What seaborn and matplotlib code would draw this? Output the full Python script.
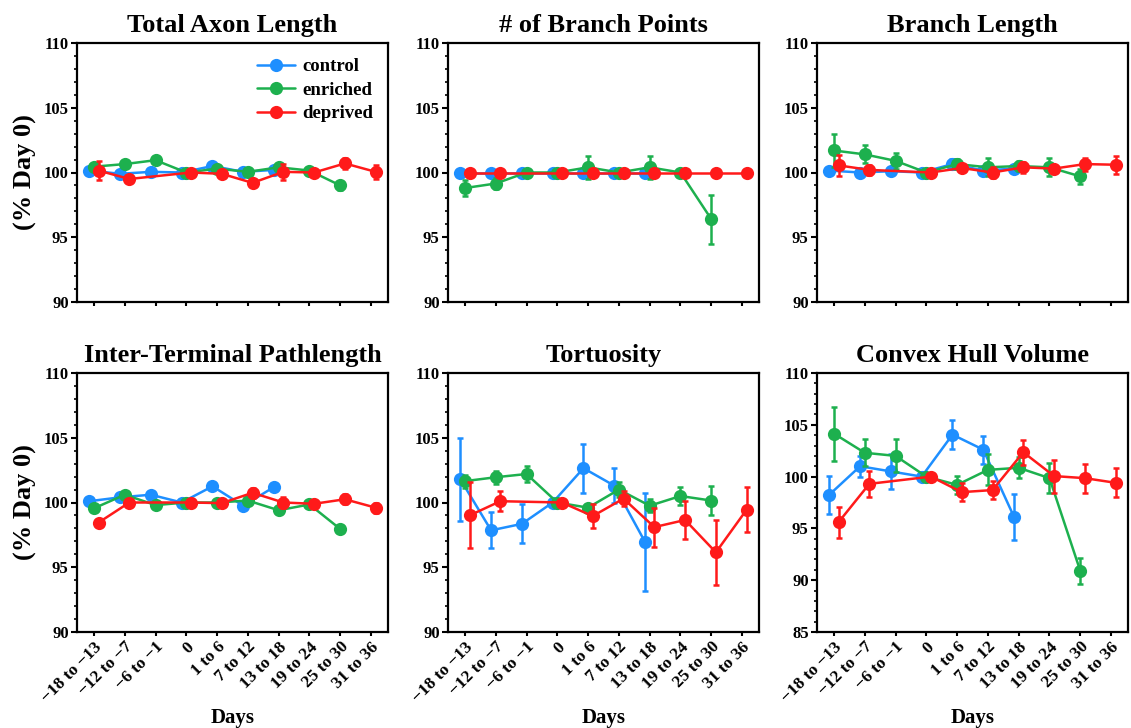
import numpy as np
import pandas as pd
import matplotlib
matplotlib.use("Agg")
import matplotlib.pyplot as plt
from matplotlib.ticker import MultipleLocator
import seaborn as sns

# ---------------- data ----------------
categories = ["\u221218 to \u221213", "\u221212 to \u22127", "\u22126 to \u22121", "0",
              "1 to 6", "7 to 12", "13 to 18", "19 to 24", "25 to 30", "31 to 36"]
groups = ["control", "enriched", "deprived"]
control_cats = [0, 1, 2, 3, 4, 5, 6]
enriched_cats = [0, 1, 2, 3, 4, 5, 6, 7, 8]
deprived_cats = [0, 1, 3, 4, 5, 6, 7, 8, 9]

titles = ["Total Axon Length", "# of Branch Points", "Branch Length",
          "Inter-Terminal Pathlength", "Tortuosity", "Convex Hull Volume"]

# Total Axon Length
tal_control = [100.15, 99.9, 100.05, 100.0, 100.5, 100.05, 100.2]
tal_control_err = [0.2, 0.2, 0.15, 0.0, 0.2, 0.2, 0.2]
tal_enriched = [100.45, 100.65, 100.95, 100.0, 100.3, 100.05, 100.4, 100.15, 99.0]
tal_enriched_err = [0.2, 0.2, 0.3, 0.0, 0.25, 0.2, 0.25, 0.25, 0.35]
tal_deprived = [100.15, 99.5, 100.0, 99.9, 99.2, 100.05, 100.0, 100.7, 100.05]
tal_deprived_err = [0.75, 0.2, 0.0, 0.2, 0.3, 0.6, 0.3, 0.4, 0.55]

# # of Branch Points
bp_control = [100.0, 100.0, 100.0, 100.0, 100.0, 100.0, 100.0]
bp_control_err = [0.0, 0.0, 0.0, 0.0, 0.0, 0.0, 0.0]
bp_enriched = [98.8, 99.15, 100.0, 100.0, 100.4, 100.0, 100.4, 100.0, 96.4]
bp_enriched_err = [0.65, 0.4, 0.1, 0.0, 0.9, 0.1, 0.9, 0.1, 1.9]
bp_deprived = [100.0, 100.0, 100.0, 100.0, 100.0, 100.0, 100.0, 100.0, 100.0]
bp_deprived_err = [0.0, 0.0, 0.0, 0.0, 0.0, 0.0, 0.0, 0.0, 0.0]

# Branch Length
bl_control = [100.15, 100.0, 100.1, 100.0, 100.65, 100.15, 100.3]
bl_control_err = [0.15, 0.1, 0.1, 0.0, 0.4, 0.2, 0.3]
bl_enriched = [101.7, 101.4, 100.9, 100.0, 100.65, 100.4, 100.5, 100.4, 99.7]
bl_enriched_err = [1.25, 0.7, 0.6, 0.0, 0.4, 0.7, 0.4, 0.7, 0.6]
bl_deprived = [100.55, 100.2, 100.0, 100.35, 100.0, 100.4, 100.3, 100.65, 100.6]
bl_deprived_err = [0.8, 0.4, 0.0, 0.3, 0.4, 0.4, 0.3, 0.5, 0.7]

# Inter-Terminal Pathlength
itp_control = [100.1, 100.4, 100.6, 100.0, 101.25, 99.75, 101.2]
itp_control_err = [0.15, 0.2, 0.2, 0.0, 0.2, 0.2, 0.2]
itp_enriched = [99.55, 100.6, 99.8, 100.0, 100.0, 100.15, 99.4, 99.85, 97.95]
itp_enriched_err = [0.2, 0.25, 0.3, 0.0, 0.15, 0.3, 0.2, 0.25, 0.2]
itp_deprived = [98.45, 100.0, 100.0, 99.95, 100.75, 100.0, 99.9, 100.25, 99.6]
itp_deprived_err = [0.2, 0.2, 0.0, 0.2, 0.4, 0.4, 0.3, 0.4, 0.4]

# Tortuosity
tor_control = [101.8, 97.85, 98.35, 100.0, 102.65, 101.3, 96.95]
tor_control_err = [3.2, 1.4, 1.5, 0.0, 1.9, 1.35, 3.8]
tor_enriched = [101.65, 101.95, 102.2, 100.0, 99.6, 101.0, 99.75, 100.5, 100.15]
tor_enriched_err = [0.5, 0.5, 0.6, 0.0, 0.3, 0.6, 0.5, 0.7, 1.15]
tor_deprived = [99.0, 100.1, 100.0, 98.95, 100.3, 98.1, 98.65, 96.15, 99.45]
tor_deprived_err = [2.55, 0.75, 0.0, 0.9, 0.6, 1.5, 1.45, 2.5, 1.75]

# Convex Hull Volume
chv_control = [98.25, 101.0, 100.5, 100.0, 104.05, 102.6, 96.1]
chv_control_err = [1.85, 1.0, 1.7, 0.0, 1.4, 1.35, 2.2]
chv_enriched = [104.15, 102.3, 102.0, 100.0, 99.2, 100.65, 100.85, 99.85, 90.9]
chv_enriched_err = [2.6, 1.3, 1.6, 0.0, 0.9, 1.5, 1.0, 1.45, 1.25]
chv_deprived = [95.6, 99.3, 100.0, 98.5, 98.7, 102.35, 100.05, 99.85, 99.4]
chv_deprived_err = [1.5, 1.25, 0.0, 0.9, 0.9, 1.2, 1.6, 1.4, 1.4]

y_limits = [(90, 110), (90, 110), (90, 110), (90, 110), (90, 110), (85, 110)]

panels = [
    (tal_control, tal_control_err, tal_enriched, tal_enriched_err, tal_deprived, tal_deprived_err),
    (bp_control, bp_control_err, bp_enriched, bp_enriched_err, bp_deprived, bp_deprived_err),
    (bl_control, bl_control_err, bl_enriched, bl_enriched_err, bl_deprived, bl_deprived_err),
    (itp_control, itp_control_err, itp_enriched, itp_enriched_err, itp_deprived, itp_deprived_err),
    (tor_control, tor_control_err, tor_enriched, tor_enriched_err, tor_deprived, tor_deprived_err),
    (chv_control, chv_control_err, chv_enriched, chv_enriched_err, chv_deprived, chv_deprived_err),
]

# ---------------- style ----------------
sns.set_theme(style="ticks")
plt.rcParams["font.family"] = ["Liberation Serif", "DejaVu Serif"]
plt.rcParams["font.weight"] = "bold"
plt.rcParams["axes.labelweight"] = "bold"
plt.rcParams["axes.titleweight"] = "bold"
for key in ["text.color", "axes.labelcolor", "xtick.color", "ytick.color", "axes.edgecolor"]:
    plt.rcParams[key] = "black"

colors = {"control": "#1E8FFF", "enriched": "#1DB04E", "deprived": "#FF1A1A"}
offsets = {"control": -0.15, "enriched": 0.0, "deprived": 0.15}
cat_idx = {"control": control_cats, "enriched": enriched_cats, "deprived": deprived_cats}

fig = plt.figure(figsize=(11.31, 7.28), dpi=100)
W, H = 1131, 728
lefts = [77, 448, 817]
tops = [43, 373]
aw, ah = 311, 259

axes = []
for r in range(2):
    for c in range(3):
        ax = fig.add_axes([lefts[c] / W, 1 - (tops[r] + ah) / H, aw / W, ah / H])
        axes.append(ax)

for i, ax in enumerate(axes):
    vals = panels[i]
    for g_i, g in enumerate(groups):
        means = vals[2 * g_i]
        errs = vals[2 * g_i + 1]
        xs = np.array(cat_idx[g], dtype=float) + offsets[g]
        df = pd.DataFrame({"x": xs, "y": means})
        ax.errorbar(xs, means, yerr=errs, fmt="none", ecolor=colors[g],
                    elinewidth=1.8, capsize=2.5, capthick=1.8, zorder=2 + g_i)
        sns.lineplot(data=df, x="x", y="y", ax=ax, color=colors[g], marker="o",
                     markersize=9.5, markeredgewidth=0, linewidth=1.8,
                     label=g if i == 0 else None, legend=False, sort=False,
                     zorder=3 + g_i)

    ax.set_xlim(-0.55, 9.55)
    ax.set_ylim(*y_limits[i])
    ax.yaxis.set_major_locator(MultipleLocator(5))
    ax.yaxis.set_minor_locator(MultipleLocator(1))
    ax.set_xticks(range(len(categories)))
    if i >= 3:
        ax.set_xticklabels(categories, rotation=45, ha="right",
                           rotation_mode="anchor", fontsize=12.5, fontweight="bold")
        ax.set_xlabel("Days", fontsize=15, fontweight="bold", labelpad=2)
    else:
        ax.set_xticklabels([])
        ax.set_xlabel("")
    for lab in ax.get_yticklabels():
        lab.set_fontweight("bold")
    ax.tick_params(axis="y", which="major", direction="out", length=4, width=1.5,
                   labelsize=12, pad=2, color="black", left=True)
    ax.tick_params(axis="y", which="minor", direction="out", length=2.5, width=1.2,
                   color="black", left=True)
    ax.tick_params(axis="x", which="major", direction="out", length=3, width=1.5,
                   pad=2, color="black", bottom=True)
    for sp in ax.spines.values():
        sp.set_visible(True)
        sp.set_linewidth(1.6)
        sp.set_color("black")
    ax.set_title(titles[i], fontsize=19, fontweight="bold", pad=8, color="black")
    if i % 3 == 0:
        ax.set_ylabel("(% Day 0)", fontsize=19, fontweight="bold", labelpad=5)
    else:
        ax.set_ylabel("")

leg = axes[0].legend(loc="upper right", frameon=False,
                     handlelength=2.0, handletextpad=0.4, labelspacing=0.35,
                     borderaxespad=0.4, prop={"weight": "bold", "size": 13.5})

fig.savefig("out.png", dpi=100)
